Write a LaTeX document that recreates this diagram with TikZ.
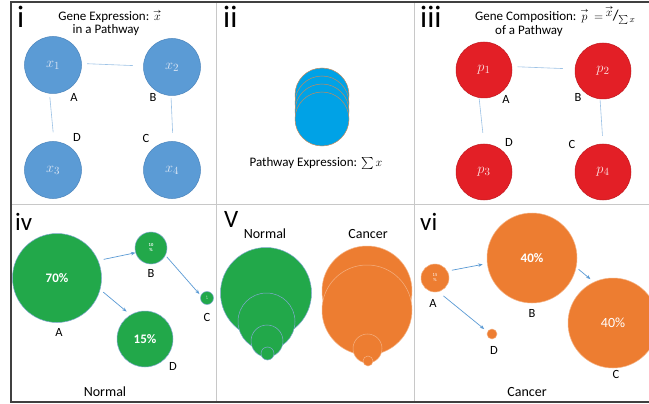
\documentclass[tikz,border=0pt]{standalone}
\usepackage{amsmath}
\usepackage{fontspec}
\setmainfont{Carlito}
\usetikzlibrary{arrows.meta}

\definecolor{frameline}{HTML}{404040}
\definecolor{gridline}{HTML}{C8C8C8}
\definecolor{geneblue}{HTML}{5B9BD5}
\definecolor{geneblueedge}{HTML}{4A84BC}
\definecolor{stackcyan}{HTML}{00A2E6}
\definecolor{stackedge}{HTML}{C48A5C}
\definecolor{compred}{HTML}{E31F26}
\definecolor{normgreen}{HTML}{22A84A}
\definecolor{cancorange}{HTML}{ED7D31}
\definecolor{linkblue}{HTML}{9DC3E6}
\definecolor{arrowblue}{HTML}{5B9BD5}
\definecolor{palelabel}{HTML}{DCE6F4}
\definecolor{pinklabel}{HTML}{FBE0E0}

% vector with a short heavy arrow above
\newcommand{\hvec}[1]{\overset{\scriptscriptstyle\boldsymbol{\rightarrow}}{#1}}

\tikzset{
  frame/.style={draw=frameline, line width=1.2pt},
  divider/.style={draw=gridline, line width=0.8pt},
  numeral/.style={anchor=base west, inner sep=0pt, font=\fontsize{31}{31}\selectfont},
  numeralsmall/.style={anchor=base west, inner sep=0pt, font=\fontsize{25}{25}\selectfont},
  caption/.style={inner sep=0pt, font=\fontsize{13}{15}\selectfont},
  bigcaption/.style={inner sep=0pt, font=\fontsize{14}{16}\selectfont},
  tag/.style={inner sep=0pt, font=\fontsize{12.5}{14}\selectfont},
  bubble/.style={circle, inner sep=0pt, line width=0.5pt, minimum size=#1},
  genecirc/.style={bubble=57pt, fill=geneblue, draw=geneblueedge, text=palelabel, font=\fontsize{15}{15}\selectfont},
  compcirc/.style={bubble=56pt, fill=compred, draw=compred!85!black, text=pinklabel, font=\fontsize{15}{15}\selectfont},
  stackcirc/.style={circle, inner sep=0pt, minimum size=54pt, fill=stackcyan, draw=stackedge, line width=0.5pt},
  greencirc/.style={bubble=#1, fill=normgreen, draw=geneblueedge!70, text=white},
  orangecirc/.style={bubble=#1, fill=cancorange, draw=cancorange!60!white, text=white},
  pct/.style={font=\bfseries\fontsize{13}{13}\selectfont},
  link/.style={draw=linkblue, line width=0.6pt},
  flow/.style={draw=arrowblue, line width=0.7pt, -{Stealth[length=4.5pt,width=3.5pt]}},
}

\begin{document}
\begin{tikzpicture}[x=1pt,y=-1pt]
\useasboundingbox (0,0) rectangle (649,404);
\fill[white] (0,0) rectangle (649,404);

% panel grid
\draw[divider] (216,2) -- (216,402);
\draw[divider] (414,2) -- (414,402);
\draw[divider] (11,204) -- (649,204);
\draw[frame] (649,2) -- (11,2) -- (11,402) -- (649,402);

% ---------- i: gene expression ----------
\node[numeral] (ni) at (17,28) {i};
\node[caption] (ti) at (110,16) {Gene Expression: $\hvec{x}$};
\node[caption] (ti2) at (106,30) {in a Pathway};
\node[genecirc] (x1) at (53,65) {$x_1$};
\node[genecirc] (x2) at (172,67) {$x_2$};
\node[genecirc] (x3) at (53,170) {$x_3$};
\node[genecirc] (x4) at (172,170) {$x_4$};
\draw[link, shorten <=5.5pt, shorten >=10.5pt] (x1.3) -- (x2.178);
\draw[link, shorten <=3.5pt, shorten >=9pt] (x1.263) -- (x3.88);
\draw[link, shorten <=2.5pt, shorten >=8.5pt] (x2.268) -- (x4.88);
\node[tag] (ia) at (74,97) {A};
\node[tag] (ib) at (153,97) {B};
\node[tag] (id) at (77,137) {D};
\node[tag] (ic) at (146,138) {C};

% ---------- ii: pathway expression ----------
\node[numeral] (nii) at (223,28) {ii};
\node[stackcirc] (s1) at (322,95) {};
\node[stackcirc] (s2) at (322,103) {};
\node[stackcirc] (s3) at (322,111) {};
\node[stackcirc] (s4) at (322,119) {};
\node[caption] (tii) at (316,163) {Pathway Expression: $\textstyle\sum x$};

% ---------- iii: gene composition ----------
\node[numeral] (niii) at (420,28) {iii};
\node[caption] (tiii) at (555,15) {Gene Composition: $\hvec{p}\,=\,$\raisebox{3.5pt}{$\hvec{x}$}\kern-0.5pt{\fontsize{15}{15}\selectfont/}\kern-0.5pt\raisebox{-2pt}{$\scriptstyle\sum x$}};
\node[caption] (tiii2) at (529,31) {of a Pathway};
\node[compcirc] (p1) at (484,70) {$p_1$};
\node[compcirc] (p2) at (603,71) {$p_2$};
\node[compcirc] (p3) at (484,172) {$p_3$};
\node[compcirc] (p4) at (603,172) {$p_4$};
\draw[link, shorten <=5.5pt, shorten >=12pt] (p1.7) -- (p2.176);
\draw[link, shorten <=0.5pt, shorten >=11pt] (p1.260) -- (p3.90);
\draw[link, shorten <=1pt, shorten >=8pt] (p2.264) -- (p4.90);
\node[tag] (iiia) at (506,99) {A};
\node[tag] (iiib) at (578,97) {B};
\node[tag] (iiid) at (509,142) {D};
\node[tag] (iiic) at (572,144) {C};

% ---------- iv: normal composition ----------
\node[numeralsmall] (niv) at (15,230) {iv};
\node[greencirc=89pt, pct] (na) at (57,278) {70\%};
\node[greencirc=32pt, align=center, font=\bfseries\fontsize{4.5}{5}\selectfont] (nb) at (151,248) {10\\\%};
\node[greencirc=13pt, align=center, font=\bfseries\fontsize{2}{2.4}\selectfont] (nc) at (207,298) {5\\\%};
\node[greencirc=56pt, pct] (nd) at (145,339) {15\%};
\draw[flow, shorten <=5.5pt] (na.23) -- (nb.197);
\draw[flow, shorten <=4pt, shorten >=5pt] (na.345) -- (nd.121);
\draw[flow, shorten <=2pt, shorten >=2pt] (nb.333) -- (nc.159);
\node[tag] (iva) at (59,332) {A};
\node[tag] (ivb) at (151,273) {B};
\node[tag] (ivc) at (207,317) {C};
\node[tag] (ivd) at (173,366) {D};
\node[bigcaption] (tiv) at (105,392) {Normal};

% ---------- v: nested comparison ----------
\node[numeralsmall] (nv) at (224,227) {V};
\node[bigcaption] (tvn) at (265,234) {Normal};
\node[bigcaption] (tvc) at (368,234) {Cancer};
\node[greencirc=91pt] (g1) at (266,293) {};
\node[greencirc=57pt] (g2) at (266.5,321.5) {};
\node[greencirc=32pt] (g3) at (267,341) {};
\node[greencirc=13pt] (g4) at (267.5,353.5) {};
\node[orangecirc=90pt] (o1) at (367,291) {};
\node[orangecirc=90pt] (o2) at (367,310) {};
\node[orangecirc=29pt] (o3) at (367.5,348.5) {};
\node[orangecirc=10pt] (o4) at (368,361) {};

% ---------- vi: cancer composition ----------
\node[numeralsmall] (nvi) at (420,230) {vi};
\node[orangecirc=28pt, align=center, font=\fontsize{4.5}{5}\selectfont] (ca) at (435,278) {15\\\%};
\node[orangecirc=90pt, pct] (cb) at (532,258) {40\%};
\node[orangecirc=90pt, font=\fontsize{14}{14}\selectfont] (cc) at (613,323) {40\%};
\node[orangecirc=10pt] (cd) at (492,334) {};
\draw[flow, shorten <=4.5pt, shorten >=4.5pt] (ca.29) -- (cb.187);
\draw[flow, shorten <=6.5pt, shorten >=4pt] (ca.284) -- (cd.153);
\draw[flow, shorten <=3pt, shorten >=4.5pt] (cb.348) -- (cc.115);
\node[tag] (via) at (433,303) {A};
\node[tag] (vib) at (532,313) {B};
\node[tag] (vic) at (616,374) {C};
\node[tag] (vid) at (494,350) {D};
\node[bigcaption] (tvi) at (527,392) {Cancer};
\end{tikzpicture}
\end{document}
